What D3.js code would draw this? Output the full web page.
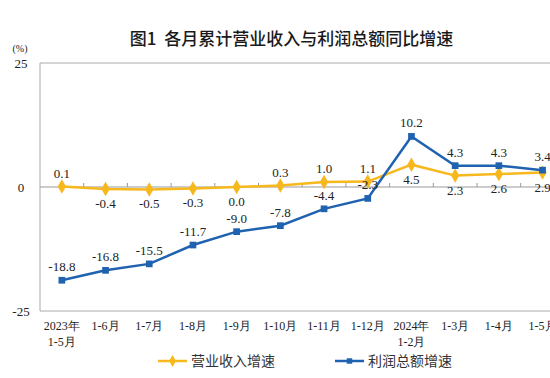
<!DOCTYPE html>
<html><head><meta charset="utf-8">
<script src="https://cdn.jsdelivr.net/npm/d3@7"></script>
<style>body{margin:0;background:#fff}svg{display:block}</style>
</head><body>
<svg id="c" width="550" height="378"></svg>
<script>
const categories = ["2023年\n1-5月","1-6月","1-7月","1-8月","1-9月","1-10月","1-11月","1-12月","2024年\n1-2月","1-3月","1-4月","1-5月"];
const revenue = [0.1,-0.4,-0.5,-0.3,0.0,0.3,1.0,1.1,4.5,2.3,2.6,2.9];
const profit = [-18.8,-16.8,-15.5,-11.7,-9.0,-7.8,-4.4,-2.3,10.2,4.3,4.3,3.4];
const yTicks = [25,0,-25];
const revenueLabelPos = ["a","b","b","b","b","a","a","a","b","b","b","b"];
const profitLabelPos = ["a","a","a","a","a","a","a","a","a","a","a","a"];
const seriesNames = ["营业收入增速","利润总额增速"];

(function(){
const svg = d3.select("#c");
const serif = "'Liberation Serif','Times New Roman',serif";
const cjk = "'Noto Sans CJK SC','Noto Sans',sans-serif";
const gold = "#F7B81D", blue = "#1F62B0";
const pL = 40, pT = 63, pB = 311;
const x = d3.scaleBand().domain(categories).range([pL, pL + 12*43.7]);
const y = d3.scaleLinear().domain([-25,25]).range([pB, pT]);

svg.append("text").attr("x",291.5).attr("y",44.5).attr("text-anchor","middle")
  .attr("font-family",cjk).attr("font-size",17).attr("font-weight",500).attr("fill","#1a1a1a")
  .attr("xml:space","preserve").text("图1  各月累计营业收入与利润总额同比增速");

svg.append("path").attr("d",`M${pL},${pB}V${pT}H550`).attr("fill","none").attr("stroke","#aaa").attr("stroke-width",1);
svg.append("line").attr("x1",pL).attr("x2",550).attr("y1",pB).attr("y2",pB).attr("stroke","#aaa");
svg.append("line").attr("x1",pL).attr("x2",550).attr("y1",y(0)).attr("y2",y(0)).attr("stroke","#999");
categories.forEach((c,i)=>{ if(i>0) svg.append("line").attr("x1",x(c)).attr("x2",x(c)).attr("y1",y(0)).attr("y2",y(0)-4).attr("stroke","#999"); });

yTicks.forEach(t=>{
  svg.append("text").attr("x", 21).attr("y", y(t)+5).attr("text-anchor","middle")
   .attr("font-family",serif).attr("font-size",13).attr("fill","#222").text(t);
});
svg.append("text").attr("x",20).attr("y",52).attr("text-anchor","middle")
  .attr("font-family",serif).attr("font-size",10).attr("fill","#222").text("(%)");

categories.forEach(c=>{
  const lines = c.split("\n");
  const cx = x(c)+x.bandwidth()/2;
  lines.forEach((l,j)=>{
    svg.append("text").attr("x",cx).attr("y",330+j*16).attr("text-anchor","middle")
     .attr("font-family",serif).attr("font-size",12).attr("fill","#222").text(l);
  });
});

const cx = (d,i)=>x(categories[i])+x.bandwidth()/2;
const line = d3.line().x((d,i)=>cx(d,i)).y(d=>y(d));
function drawSeries(data,color,sym,size,pos){
  svg.append("path").datum(data).attr("d",line).attr("fill","none").attr("stroke",color).attr("stroke-width",2.5);
  svg.selectAll(null).data(data).enter().append("path")
    .attr("transform",(d,i)=>`translate(${cx(d,i)},${y(d)})`)
    .attr("d",d3.symbol().type(sym).size(size)).attr("fill",color);
  svg.selectAll(null).data(data).enter().append("text")
    .attr("x",(d,i)=>cx(d,i)).attr("y",(d,i)=>pos[i]==="a"? y(d)-9 : y(d)+19)
    .attr("text-anchor","middle").attr("font-family",serif).attr("font-size",13).attr("fill","#222")
    .text(d=>d.toFixed(1));
}
drawSeries(revenue,gold,d3.symbolDiamond,60,revenueLabelPos);
drawSeries(profit,blue,d3.symbolSquare,45,profitLabelPos);

const leg = [[158,gold,d3.symbolDiamond,40],[335,blue,d3.symbolSquare,30]];
leg.forEach(([lx,col,sym,sz],i)=>{
  svg.append("line").attr("x1",lx).attr("x2",lx+29).attr("y1",361).attr("y2",361).attr("stroke",col).attr("stroke-width",2.5);
  svg.append("path").attr("transform",`translate(${lx+14.5},361)`).attr("d",d3.symbol().type(sym).size(sz)).attr("fill",col);
  svg.append("text").attr("x",lx+33).attr("y",366).attr("font-family",cjk).attr("font-size",14).attr("fill","#333").text(seriesNames[i]);
});
})();
</script>
</body></html>
